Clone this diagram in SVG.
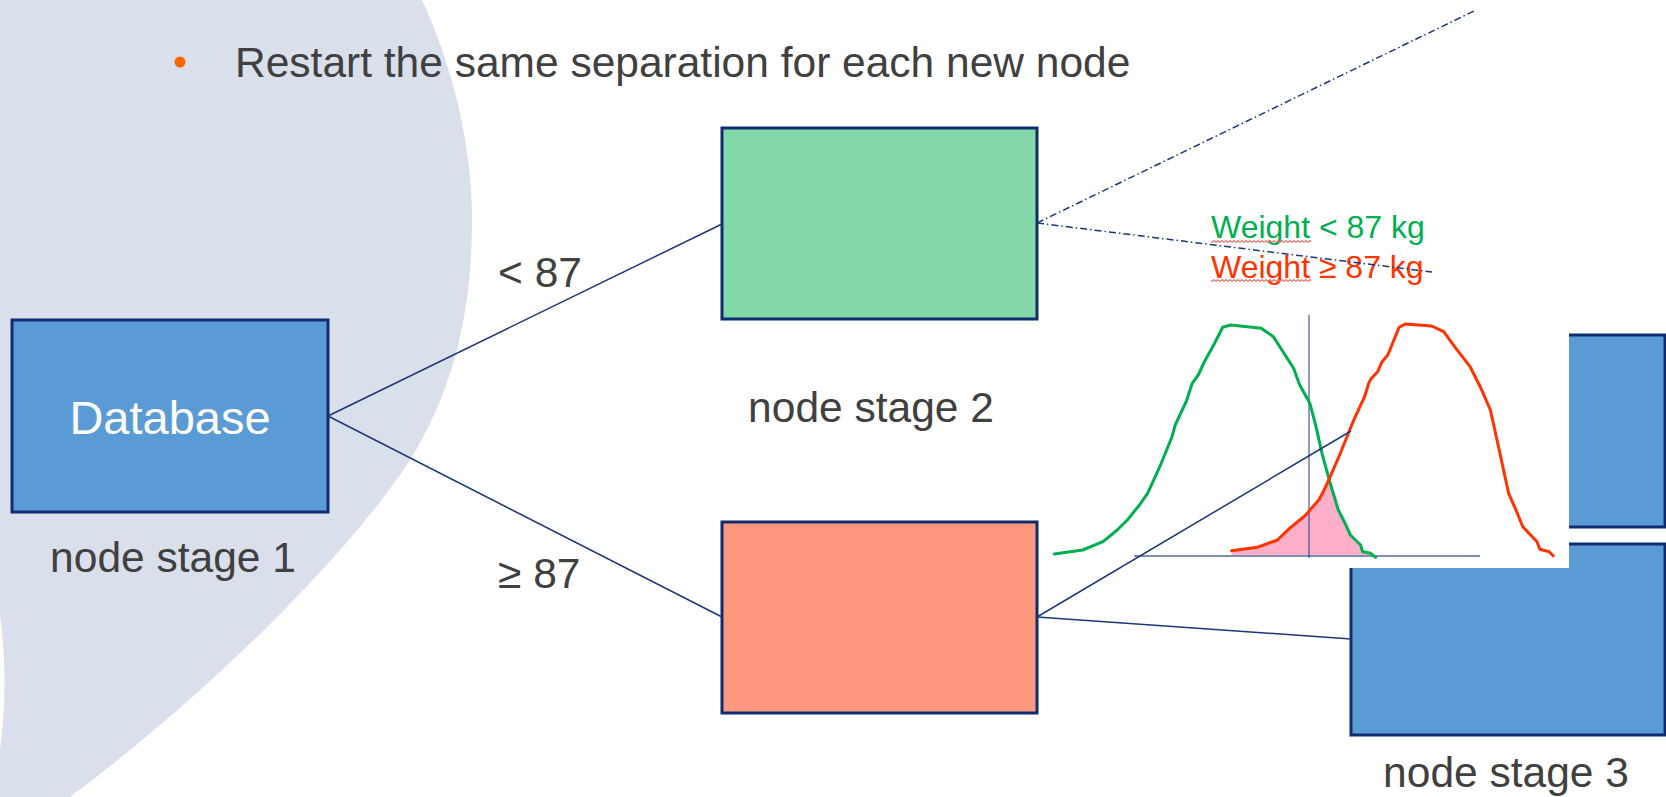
<svg xmlns="http://www.w3.org/2000/svg" width="1666" height="797" viewBox="0 0 1666 797">
  <defs>
    <style>
      .txt { font-family: "Liberation Sans", Arial, sans-serif; fill: #404040; }
      .lbl { font-size: 42.5px; }
      .node { stroke: #0F2C6E; stroke-width: 3; }
      .blue { fill: #5B9BD5; }
      .conn { stroke: #1C3778; stroke-width: 1.5; fill: none; }
      .dashdot { stroke: #1C3778; stroke-width: 1.5; fill: none; stroke-dasharray: 7 3 1.5 3; }
      .curve { fill: none; stroke-width: 3; stroke-linejoin: round; stroke-linecap: round; }
      .weight { font-family: "Liberation Sans", Arial, sans-serif; font-size: 32px; }
    </style>
    <pattern id="squiggle" width="4" height="3" patternUnits="userSpaceOnUse">
      <path d="M0,2.5 L2,0.5 L4,2.5" stroke="#EE6F6F" stroke-width="1.1" fill="none"/>
    </pattern>
  </defs>

  <rect width="1666" height="797" fill="#FFFFFF"/>

  <!-- backdrop shape on the left -->
  <path d="M0,0 L422,0 C450,60 472,140 472,220 C472,320 450,395 410,460 C345,560 200,700 70,797 L0,797 Z" fill="#D9DFEB"/>
  <path d="M0,615 Q9,680 0,750 Z" fill="#FFFFFF"/>

  <!-- heading bullet -->
  <g id="heading">
    <circle cx="180" cy="62" r="5.5" fill="#FF6600"/>
    <text class="txt lbl" x="235" y="77">Restart the same separation for each new node</text>
  </g>

  <!-- stage 3 boxes (partly hidden behind the chart) -->
  <g id="node-stage3-upper">
    <rect class="node blue" x="1351" y="335" width="314" height="192"/>
  </g>
  <g id="node-stage3-lower">
    <rect class="node blue" x="1351" y="544" width="314" height="191"/>
    <text class="txt lbl" x="1506" y="787" text-anchor="middle">node stage 3</text>
  </g>

  <!-- weight distribution chart -->
  <g id="chart">
    <rect x="1045" y="305" width="524" height="263" fill="#FFFFFF"/>
    <path d="M1231.6,552 L1257.1,547.3 L1277.4,540 L1289.6,528.3 L1305.8,515 L1309.9,510 L1318.8,500 L1324.1,490 L1329.3,480 L1330.2,483.3 L1338.3,510 L1344.3,521.7 L1350.4,535 L1360.6,545 L1362.6,551.7 L1370.7,553.3 L1373,556 L1231.6,556 Z" fill="#FFAFC9"/>
    <line x1="1134" y1="556" x2="1480" y2="556" stroke="#8090B4" stroke-width="2"/>
    <line x1="1309" y1="315" x2="1309" y2="558" stroke="#1C3778" stroke-width="1"/>
    <path class="curve" stroke="#00B050" d="M1054.3,554 L1082.7,550 L1103,541.7 L1117.2,530 L1127.3,520 L1139.5,505 L1147.6,493.3 L1159.8,466.7 L1172,436.7 L1175.2,425 L1186.2,401.7 L1192.2,383.3 L1198.3,375 L1204.4,361.7 L1214.6,343.3 L1222.7,327.3 L1230.8,325 L1261.2,328.3 L1273.4,336.7 L1293.6,368.3 L1299.7,385 L1309.9,403.3 L1316,426.7 L1322,453.3 L1330.2,483.3 L1338.3,510 L1344.3,521.7 L1350.4,535 L1360.6,545 L1362.6,551.7 L1370.7,553.3 L1375.6,557.3"/>
    <path class="curve" stroke="#FF3300" d="M1231.6,550.7 L1257.1,547.3 L1277.4,540 L1289.6,528.3 L1305.8,515 L1309.9,510 L1318.8,500 L1324.1,490 L1330.2,476.7 L1340.3,453.3 L1348.4,433.3 L1351.7,425 L1354.5,418.3 L1364.6,396.7 L1368.7,383.3 L1370.7,379.3 L1377.6,371.7 L1382.1,361.7 L1387.8,355 L1399.1,327.3 L1405.2,324 L1431.6,326 L1443.7,331.7 L1455.9,348.3 L1470.1,366.7 L1480.2,386.7 L1490.4,410 L1498.5,446.7 L1508.6,493.3 L1516.7,511.7 L1522.8,526.7 L1537,541.7 L1539.8,549.3 L1549.2,551.7 L1553.2,555.7"/>
  </g>

  <!-- root node -->
  <g id="node-stage1">
    <rect class="node blue" x="12" y="320" width="316" height="192"/>
    <text x="170" y="434" text-anchor="middle" font-family="Liberation Sans, Arial, sans-serif" font-size="47" fill="#FFFFFF">Database</text>
    <text class="txt lbl" x="173" y="572" text-anchor="middle">node stage 1</text>
  </g>

  <!-- stage 2 nodes -->
  <g id="node-stage2-left">
    <rect class="node" x="722" y="128" width="315" height="191" fill="#82D8A8"/>
    <text class="txt lbl" x="871" y="422" text-anchor="middle">node stage 2</text>
  </g>
  <g id="node-stage2-right">
    <rect class="node" x="722" y="522" width="315" height="191" fill="#FE997F"/>
  </g>

  <!-- split labels -->
  <g id="split-labels">
    <text class="txt lbl" x="498" y="287">&lt; 87</text>
    <text class="txt lbl" x="498" y="588">≥ 87</text>
    <text class="weight" x="1211" y="238" fill="#00B050">Weight &lt; 87 kg</text>
    <text class="weight" x="1211" y="278" fill="#FF3300">Weight ≥ 87 kg</text>
    <rect x="1211" y="240" width="100" height="3" fill="url(#squiggle)"/>
    <rect x="1211" y="279" width="100" height="3" fill="url(#squiggle)"/>
  </g>

  <!-- connectors -->
  <g id="connectors">
    <line class="conn" x1="328" y1="416" x2="722" y2="224"/>
    <line class="conn" x1="328" y1="416" x2="722" y2="617"/>
    <line class="conn" x1="1037" y1="617" x2="1351" y2="431"/>
    <line class="conn" x1="1037" y1="617" x2="1351" y2="639"/>
    <line class="dashdot" x1="1037" y1="223" x2="1474" y2="11"/>
    <line class="dashdot" x1="1037" y1="223" x2="1432" y2="272"/>
  </g>
</svg>
